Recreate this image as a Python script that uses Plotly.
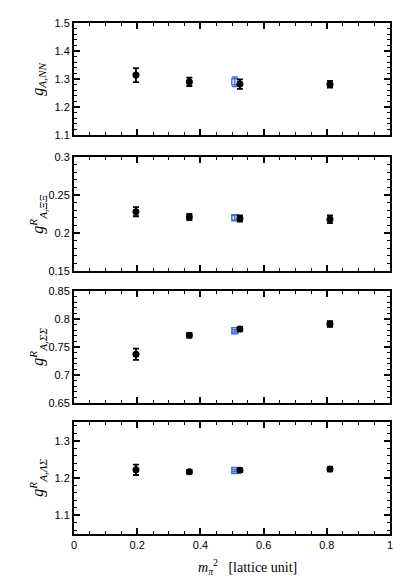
import plotly.graph_objects as go

# data
x_black = [0.196, 0.365, 0.525, 0.81]
x_blue = [0.509]

nn_black = [1.314, 1.290, 1.282, 1.281]
nn_black_err = [0.025, 0.015, 0.017, 0.012]
nn_blue = [1.290]
nn_blue_err = [0.017]

xx_black = [0.228, 0.221, 0.219, 0.218]
xx_black_err = [0.006, 0.004, 0.004, 0.005]
xx_blue = [0.220]
xx_blue_err = [0.003]

ss_black = [0.737, 0.771, 0.782, 0.791]
ss_black_err = [0.010, 0.004, 0.004, 0.005]
ss_blue = [0.779]
ss_blue_err = [0.002]

ls_black = [1.222, 1.217, 1.221, 1.224]
ls_black_err = [0.014, 0.005, 0.005, 0.006]
ls_blue = [1.220]
ls_blue_err = [0.003]

x_ticks = [0, 0.2, 0.4, 0.6, 0.8, 1]
x_ticklabels = ["0", "0.2", "0.4", "0.6", "0.8", "1"]

panels = [
    dict(black=nn_black, berr=nn_black_err, blue=nn_blue, uerr=nn_blue_err,
         rng=[1.1, 1.5], dtick=0.1, minor=0.02, fmt=".1f",
         title="<i>g</i><sub><i>A,NN</i></sub>"),
    dict(black=xx_black, berr=xx_black_err, blue=xx_blue, uerr=xx_blue_err,
         rng=[0.15, 0.3], dtick=0.05, minor=0.01, fmt="",
         title="<i>g</i><sup><i>R</i></sup><sub><i>A,ΞΞ</i></sub>"),
    dict(black=ss_black, berr=ss_black_err, blue=ss_blue, uerr=ss_blue_err,
         rng=[0.65, 0.85], dtick=0.05, minor=0.01, fmt="",
         title="<i>g</i><sup><i>R</i></sup><sub><i>A,ΣΣ</i></sub>"),
    dict(black=ls_black, berr=ls_black_err, blue=ls_blue, uerr=ls_blue_err,
         rng=[1.05, 1.35], dtick=0.1, minor=0.02, fmt=".1f",
         title="<i>g</i><sup><i>R</i></sup><sub><i>A,ΛΣ</i></sub>"),
]

domains = [[0.7808, 1.0], [0.5147, 0.7378], [0.2564, 0.4755], [0.0, 0.2192]]

fig = go.Figure()
blue = "#3f6fdc"
tickfont = dict(family="Liberation Sans, Arial, sans-serif", size=11, color="black")

for i, p in enumerate(panels):
    n = i + 1
    xa = "x" if n == 1 else f"x{n}"
    ya = "y" if n == 1 else f"y{n}"
    fig.add_trace(go.Scatter(
        x=x_blue, y=p["blue"], mode="markers", xaxis=xa, yaxis=ya,
        marker=dict(symbol="square-open", size=6, color=blue, line=dict(width=1.5, color=blue)),
        error_y=dict(type="data", array=p["uerr"], color=blue, thickness=1.5, width=3),
        showlegend=False))
    fig.add_trace(go.Scatter(
        x=x_black, y=p["black"], mode="markers", xaxis=xa, yaxis=ya,
        marker=dict(symbol="circle", size=7, color="black"),
        error_y=dict(type="data", array=p["berr"], color="black", thickness=1.8, width=3),
        showlegend=False))

    axcommon = dict(showline=True, linecolor="black", linewidth=2, mirror="ticks",
                    ticks="inside", ticklen=6, tickwidth=1.5, tickcolor="black",
                    showgrid=False, zeroline=False, tickfont=tickfont)
    xkey = "xaxis" if n == 1 else f"xaxis{n}"
    ykey = "yaxis" if n == 1 else f"yaxis{n}"
    fig.layout[xkey] = dict(
        axcommon, range=[0, 1], tickmode="array", tickvals=x_ticks, ticktext=x_ticklabels,
        anchor=ya, showticklabels=(n == 4),
        minor=dict(dtick=0.05, tick0=0, ticks="inside", ticklen=3, tickwidth=1, tickcolor="black"),
        **({} if n == 1 else {"matches": "x"}))
    fig.layout[ykey] = dict(
        axcommon, range=p["rng"], dtick=p["dtick"], tick0=0, anchor=xa,
        domain=domains[i], tickformat=p["fmt"],
        minor=dict(dtick=p["minor"], ticks="inside", ticklen=3, tickwidth=1, tickcolor="black"))

    dmid = (domains[i][0] + domains[i][1]) / 2
    fig.add_annotation(
        text=p["title"], xref="paper", yref="paper", x=-0.115, y=dmid,
        xanchor="center", yanchor="middle", textangle=-90, showarrow=False,
        font=dict(family="Liberation Serif, Times New Roman, serif", size=16, color="black"))

fig.add_annotation(
    text="<i>m</i><sub><i>π</i></sub><sup>2</sup>   [lattice unit]",
    xref="paper", yref="paper", x=0.55, y=-0.042, xanchor="center", yanchor="top",
    showarrow=False,
    font=dict(family="Liberation Serif, Times New Roman, serif", size=14, color="black"))

fig.update_layout(
    width=415, height=581,
    margin=dict(l=74, r=25, t=23, b=47),
    plot_bgcolor="white", paper_bgcolor="white",
)

fig.write_html("out.html", config={"displayModeBar": False},
               post_script="document.body.style.margin='0px';document.body.style.overflow='hidden';")
